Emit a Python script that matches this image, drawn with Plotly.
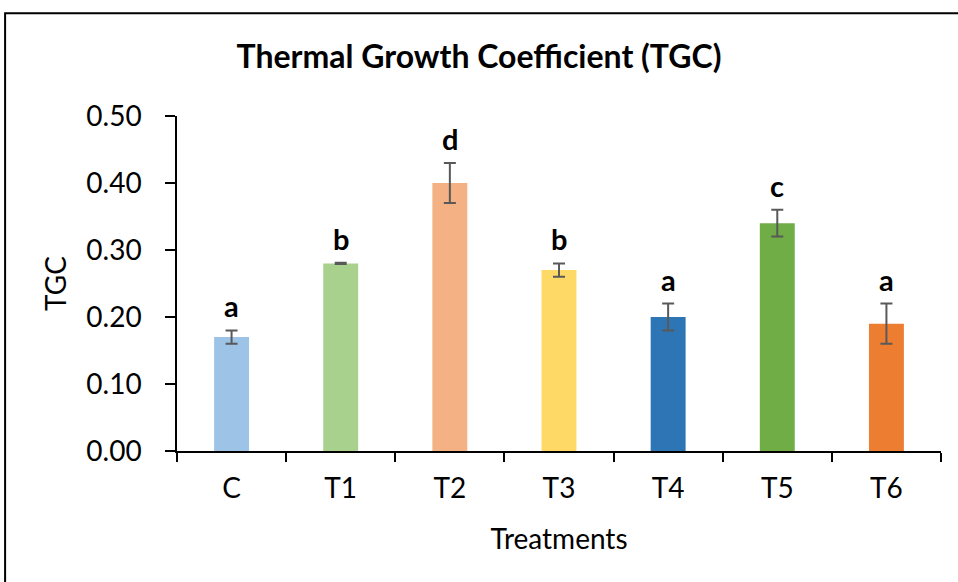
import plotly.graph_objects as go

# Treatment means, standard errors and significance letters
treatments = ["C", "T1", "T2", "T3", "T4", "T5", "T6"]
tgc_mean = [0.17, 0.28, 0.40, 0.27, 0.20, 0.34, 0.19]
tgc_err = [0.01, 0.001, 0.03, 0.01, 0.02, 0.02, 0.03]
sig_letters = ["a", "b", "d", "b", "a", "c", "a"]
bar_colors = ["#9DC3E6", "#A9D18E", "#F4B183", "#FFD966", "#2E75B6", "#70AD47", "#ED7D31"]
y_ticks = [0.0, 0.1, 0.2, 0.3, 0.4, 0.5]

FONT = "Lato"

fig = go.Figure(
    go.Bar(
        x=treatments,
        y=tgc_mean,
        marker=dict(color=bar_colors, line=dict(width=0)),
        width=0.32,
        error_y=dict(type="data", array=tgc_err, visible=True,
                     color="#595959", thickness=2, width=6),
    )
)

for t, m, e, s in zip(treatments, tgc_mean, tgc_err, sig_letters):
    fig.add_annotation(x=t, y=m + e, text=f"<b>{s}</b>", showarrow=False,
                       yanchor="bottom", yshift=5,
                       font=dict(family=FONT, size=29, color="black"))

# Outer chart frame
fig.add_shape(type="rect", xref="paper", yref="paper",
              x0=-0.225, x1=1.5, y0=-1.0, y1=1.307,
              line=dict(color="black", width=2), fillcolor="rgba(0,0,0,0)",
              layer="below")

fig.update_layout(
    width=958, height=582,
    margin=dict(l=177, r=17, t=116, b=131),
    paper_bgcolor="white", plot_bgcolor="white",
    showlegend=False,
    title=dict(text="<b>Thermal Growth Coefficient (TGC)</b>",
               x=0.5, xref="container", xanchor="center",
               y=1 - 57 / 582, yref="container", yanchor="middle",
               font=dict(family=FONT, size=32, color="black")),
    font=dict(family=FONT, color="black"),
)

fig.update_xaxes(
    showline=True, linecolor="black", linewidth=1.5,
    ticks="outside", tickson="boundaries", ticklen=9, tickcolor="black", tickwidth=1.5,
    ticklabelstandoff=12,
    tickfont=dict(family=FONT, size=28, color="black"),
    title=dict(text="Treatments", font=dict(family=FONT, size=28, color="black"), standoff=26),
    showgrid=False,
)
fig.update_yaxes(
    range=[0, 0.5], tickvals=y_ticks, tickformat=".2f",
    showline=True, linecolor="black", linewidth=1.5,
    ticks="outside", ticklen=10, tickcolor="black", tickwidth=1.5,
    ticklabelstandoff=18,
    tickfont=dict(family=FONT, size=28, color="black"),
    title=dict(text="TGC", font=dict(family=FONT, size=28, color="black"), standoff=12),
    showgrid=False, zeroline=False,
)

fig.write_html("out.html")
